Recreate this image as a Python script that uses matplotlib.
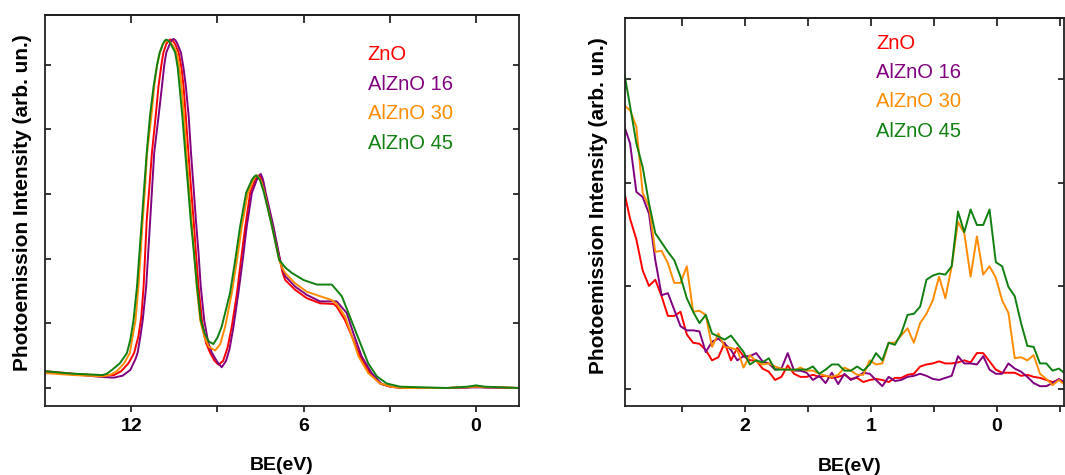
import numpy as np
import matplotlib
matplotlib.use("Agg")
import matplotlib.pyplot as plt

plt.rcParams['font.family'] = ['Liberation Sans', 'DejaVu Sans']

# legend names and colours
names = ["ZnO", "AlZnO 16", "AlZnO 30", "AlZnO 45"]
colors = ["#ff0000", "#800080", "#ff8c00", "#108010"]

# ---- left panel: full valence band ----
be_zno = [15.0, 14.0, 13.0, 12.6, 12.35, 12.1, 11.9, 11.75, 11.65, 11.57, 11.46, 11.37, 11.28, 11.15, 11.05,
          10.95, 10.88, 10.78, 10.71, 10.64, 10.55, 10.47, 10.35, 10.25, 10.18, 10.10, 10.01, 9.92, 9.83, 9.75,
          9.66, 9.54, 9.40, 9.25, 9.10, 8.96, 8.80, 8.65, 8.50, 8.32, 8.18, 8.03, 7.86, 7.69, 7.61,
          7.54, 7.45, 7.34, 7.07, 6.82, 6.73, 6.64, 6.30, 5.89, 5.43, 4.96, 4.85, 4.56, 4.32, 4.03,
          3.69, 3.34, 3.0, 2.5, 1.0, 0.3, 0.0, -0.3, -1.5]
i_zno = [0.26, 0.22, 0.19, 0.20, 0.26, 0.38, 0.54, 0.80, 1.10, 1.57, 2.60, 3.10, 3.64, 4.20, 4.67,
         5.00, 5.19, 5.32, 5.37, 5.39, 5.37, 5.32, 5.19, 4.95, 4.67, 4.20, 3.64, 3.10, 2.60, 2.10,
         1.57, 1.05, 0.70, 0.54, 0.42, 0.36, 0.42, 0.62, 0.95, 1.47, 1.98, 2.50, 3.02, 3.22, 3.27,
         3.29, 3.23, 3.02, 2.50, 1.98, 1.78, 1.67, 1.52, 1.39, 1.31, 1.30, 1.26, 1.05, 0.80, 0.49,
         0.23, 0.07, 0.02, 0.0, 0.0, 0.01, 0.02, 0.01, 0.0]

be_a16 = [15.0, 14.0, 13.0, 12.6, 12.3, 12.03, 11.85, 11.78, 11.68, 11.60, 11.48, 11.34, 11.2, 11.05, 10.93,
          10.85, 10.78, 10.65, 10.59, 10.53, 10.46, 10.40, 10.27, 10.18, 10.10, 10.0, 9.92, 9.83, 9.75, 9.66,
          9.58, 9.46, 9.32, 9.19, 9.0, 8.85, 8.70, 8.58, 8.44, 8.27, 8.12, 7.98, 7.80, 7.63, 7.56,
          7.49, 7.41, 7.32, 7.05, 6.82, 6.73, 6.64, 6.30, 5.89, 5.43, 4.85, 4.50, 4.27, 3.98, 3.63,
          3.28, 2.9, 2.5, 1.0, 0.0, -1.5]
i_a16 = [0.25, 0.21, 0.17, 0.16, 0.19, 0.28, 0.45, 0.54, 0.80, 1.05, 1.57, 2.60, 3.64, 4.20, 4.67,
         5.00, 5.19, 5.33, 5.38, 5.40, 5.38, 5.33, 5.19, 4.95, 4.67, 4.20, 3.64, 3.10, 2.60, 2.10,
         1.57, 1.05, 0.70, 0.54, 0.40, 0.32, 0.42, 0.60, 0.95, 1.47, 1.98, 2.50, 3.02, 3.22, 3.28,
         3.31, 3.22, 3.02, 2.50, 1.98, 1.83, 1.73, 1.57, 1.44, 1.34, 1.34, 1.16, 0.85, 0.49, 0.23,
         0.06, 0.015, 0.0, 0.0, 0.01, 0.0]

be_a30 = [15.0, 14.0, 13.0, 12.75, 12.5, 12.25, 12.05, 11.95, 11.85, 11.75, 11.6, 11.52, 11.45, 11.3, 11.2,
          11.1, 11.0, 10.9, 10.82, 10.75, 10.65, 10.55, 10.42, 10.32, 10.25, 10.16, 10.08, 9.99, 9.90, 9.81,
          9.72, 9.6, 9.45, 9.3, 9.08, 8.9, 8.73, 8.50, 8.32, 8.15, 7.94, 7.75, 7.68, 7.61, 7.48,
          7.36, 7.10, 6.85, 6.75, 6.64, 6.30, 5.89, 5.43, 5.02, 4.85, 4.56, 4.32, 4.09, 3.75, 3.34,
          2.9, 2.5, 1.0, 0.0, -1.5]
i_a30 = [0.23, 0.20, 0.18, 0.20, 0.26, 0.38, 0.54, 0.80, 1.05, 1.57, 2.60, 3.10, 3.64, 4.20, 4.67,
         5.00, 5.19, 5.32, 5.36, 5.37, 5.35, 5.30, 5.19, 4.95, 4.67, 4.20, 3.64, 3.10, 2.60, 2.10,
         1.57, 1.05, 0.78, 0.64, 0.58, 0.68, 0.95, 1.47, 1.98, 2.50, 3.02, 3.22, 3.27, 3.29, 3.20,
         3.02, 2.50, 1.98, 1.86, 1.78, 1.62, 1.49, 1.42, 1.36, 1.30, 1.11, 0.80, 0.49, 0.23, 0.07,
         0.015, 0.0, 0.0, 0.02, 0.0]

be_a45 = [15.0, 14.0, 13.0, 12.85, 12.67, 12.4, 12.15, 12.03, 11.92, 11.80, 11.63, 11.55, 11.46, 11.35, 11.22,
          11.1, 11.01, 10.9, 10.84, 10.78, 10.70, 10.62, 10.47, 10.38, 10.32, 10.22, 10.12, 10.02, 9.93, 9.82,
          9.71, 9.58, 9.45, 9.3, 9.14, 9.0, 8.85, 8.56, 8.38, 8.21, 8.0, 7.80, 7.72, 7.65, 7.52,
          7.38, 7.10, 6.85, 6.63, 6.41, 6.0, 5.54, 5.02, 4.67, 4.44, 4.21, 3.98, 3.75, 3.45, 3.11,
          2.64, 1.0, 0.3, 0.0, -0.3, -1.5]
i_a45 = [0.26, 0.22, 0.20, 0.22, 0.28, 0.38, 0.54, 0.75, 1.05, 1.57, 2.60, 3.10, 3.64, 4.20, 4.67,
         5.00, 5.19, 5.32, 5.37, 5.39, 5.37, 5.32, 5.19, 4.95, 4.67, 4.20, 3.64, 3.10, 2.60, 2.10,
         1.57, 1.05, 0.85, 0.72, 0.68, 0.78, 0.95, 1.47, 1.98, 2.50, 3.02, 3.22, 3.27, 3.29, 3.22,
         3.02, 2.50, 1.98, 1.86, 1.78, 1.67, 1.60, 1.60, 1.42, 1.16, 0.90, 0.64, 0.38, 0.18, 0.07,
         0.02, 0.0, 0.02, 0.04, 0.02, 0.0]

# ---- right panel: band gap region, 0.05 eV steps ----
be_gap = np.round(2.96 - 0.05 * np.arange(71), 2)
g_zno = [1.93, 1.65, 1.45, 1.15, 1.00, 1.06, 0.90, 0.71, 0.71, 0.75,
         0.53, 0.45, 0.44, 0.38, 0.28, 0.31, 0.45, 0.28, 0.40, 0.32,
         0.28, 0.28, 0.20, 0.17, 0.09, 0.12, 0.23, 0.15, 0.12, 0.12,
         0.14, 0.12, 0.13, 0.11, 0.12, 0.14, 0.10, 0.11, 0.07, 0.09,
         0.10, 0.09, 0.07, 0.11, 0.11, 0.14, 0.15, 0.22, 0.24, 0.25,
         0.27, 0.25, 0.25, 0.26, 0.28, 0.26, 0.35, 0.35, 0.27, 0.19,
         0.16, 0.16, 0.16, 0.13, 0.14, 0.12, 0.11, 0.09, 0.07, 0.09,
         0.07]
g_a16 = [2.56, 2.38, 1.91, 1.86, 1.70, 1.25, 0.91, 0.93, 0.77, 0.61,
         0.57, 0.57, 0.56, 0.36, 0.46, 0.49, 0.44, 0.38, 0.28, 0.32,
         0.32, 0.35, 0.27, 0.25, 0.19, 0.20, 0.35, 0.18, 0.18, 0.16,
         0.09, 0.13, 0.06, 0.16, 0.05, 0.15, 0.09, 0.12, 0.16, 0.15,
         0.09, 0.03, 0.12, 0.08, 0.09, 0.12, 0.13, 0.15, 0.13, 0.10,
         0.09, 0.11, 0.13, 0.32, 0.25, 0.25, 0.24, 0.32, 0.19, 0.15,
         0.15, 0.25, 0.20, 0.17, 0.12, 0.06, 0.03, 0.03, 0.06, 0.10,
         0.06]
g_a30 = [2.75, 2.70, 2.54, 1.90, 1.77, 1.33, 1.34, 1.22, 1.03, 1.03,
         1.19, 0.75, 0.76, 0.72, 0.41, 0.54, 0.41, 0.40, 0.38, 0.21,
         0.33, 0.27, 0.24, 0.25, 0.22, 0.20, 0.19, 0.18, 0.21, 0.18,
         0.18, 0.15, 0.13, 0.12, 0.14, 0.21, 0.18, 0.14, 0.14, 0.28,
         0.24, 0.25, 0.45, 0.45, 0.52, 0.59, 0.45, 0.64, 0.73, 0.86,
         1.09, 0.88, 1.19, 1.62, 1.51, 1.09, 1.48, 1.11, 1.19, 1.08,
         0.86, 0.74, 0.30, 0.31, 0.28, 0.33, 0.15, 0.10, 0.04, 0.09,
         0.04]
g_a45 = [3.09, 2.74, 2.38, 2.15, 1.80, 1.51, 1.42, 1.33, 1.25, 1.09,
         0.88, 0.75, 0.64, 0.72, 0.54, 0.51, 0.48, 0.52, 0.44, 0.36,
         0.24, 0.28, 0.26, 0.30, 0.19, 0.19, 0.19, 0.19, 0.19, 0.19,
         0.22, 0.15, 0.19, 0.24, 0.24, 0.18, 0.18, 0.22, 0.18, 0.24,
         0.35, 0.28, 0.45, 0.43, 0.54, 0.72, 0.73, 0.80, 1.06, 1.10,
         1.12, 1.11, 1.19, 1.72, 1.52, 1.74, 1.59, 1.59, 1.74, 1.23,
         1.19, 0.99, 0.90, 0.64, 0.42, 0.41, 0.25, 0.25, 0.18, 0.20,
         0.15]

left_x = [be_zno, be_a16, be_a30, be_a45]
left_y = [i_zno, i_a16, i_a30, i_a45]
right_y = [g_zno, g_a16, g_a30, g_a45]

fig = plt.figure(figsize=(10.65, 4.75), dpi=100)
ax1 = fig.add_axes([0.0423, 0.1459, 0.4451, 0.8225])
ax2 = fig.add_axes([0.5864, 0.1459, 0.4126, 0.8156])


def style_axis(ax, xticks, xlabels, yticks, label_x, label_y, ylab_x, ylab_y):
    for s in ax.spines.values():
        s.set_linewidth(1.3)
        s.set_color("#222222")
    ax.set_xticks(xticks)
    ax.set_xticklabels(xlabels, fontsize=14, fontweight='bold')
    ax.set_yticks(yticks)
    ax.tick_params(axis='x', direction='out', length=4, width=1.1, pad=5, top=False)
    ax.tick_params(axis='y', direction='in', length=4, width=1.1, left=True, right=True,
                   labelleft=False)
    top = ax.secondary_xaxis('top')
    top.set_xticks(xticks)
    top.tick_params(direction='in', length=6, width=1.1, labeltop=False)
    top.spines['top'].set_linewidth(1.3)
    ax.set_xlabel("BE(eV)", fontsize=14, fontweight='bold')
    ax.xaxis.set_label_coords(label_x, label_y)
    ax.xaxis.label.set_va('center')
    ax.set_ylabel("Photoemission Intensity (arb. un.)", fontsize=15, fontweight='bold')
    ax.yaxis.set_label_coords(ylab_x, ylab_y)
    ax.yaxis.label.set_va('center')


for x, y, c in zip(left_x, left_y, colors):
    ax1.plot(x, y, color=c, lw=1.4)
ax1.set_xlim(15, -1.5)
ax1.set_ylim(-0.274, 5.77)
style_axis(ax1, [12, 9, 6, 3, 0], ['12', '', '6', '', '0'], [0, 1, 2, 3, 4, 5],
           0.5, -0.154, -0.047, 0.519)

for y, c in zip(right_y, colors):
    ax2.plot(be_gap, y, color=c, lw=1.4)
ax2.set_xlim(2.954, -0.53)
ax2.set_ylim(-0.159, 3.59)
style_axis(ax2, [2.5, 2, 1.5, 1, 0.5, 0, -0.5], ['', '2', '', '1', '', '0', ''], [0, 1, 2, 3],
           0.513, -0.156, -0.060, 0.517)

# sample names as coloured text
for k, (n, c) in enumerate(zip(names, colors)):
    ax1.text(0.681, 0.898 - 0.0755 * k, n, color=c, fontsize=14.5, va='center', ha='left',
             transform=ax1.transAxes)
    ax2.text(0.5725, 0.936 - 0.0757 * k, n, color=c, fontsize=14.5, va='center', ha='left',
             transform=ax2.transAxes)

fig.savefig("out.png", dpi=100)
